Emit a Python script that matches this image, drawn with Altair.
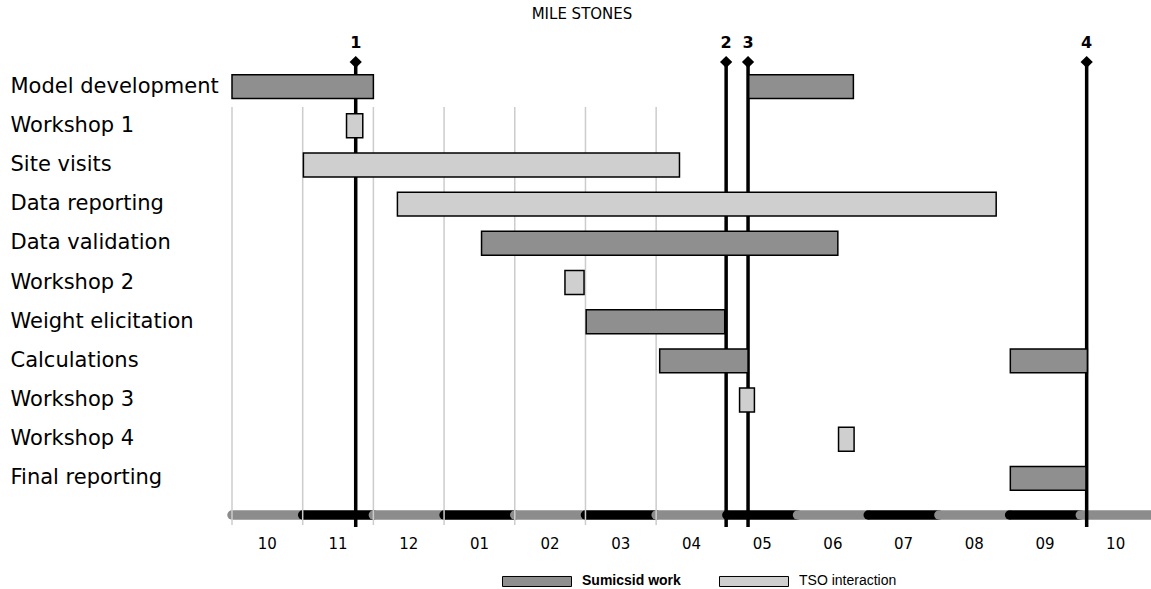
import altair as alt
import pandas as pd

# ---- data -------------------------------------------------------------
tasks = ["Model development", "Workshop 1", "Site visits", "Data reporting",
         "Data validation", "Workshop 2", "Weight elicitation", "Calculations",
         "Workshop 3", "Workshop 4", "Final reporting"]

bar_task = ["Model development", "Model development", "Workshop 1", "Site visits",
            "Data reporting", "Data validation", "Workshop 2", "Weight elicitation",
            "Calculations", "Calculations", "Workshop 3", "Workshop 4", "Final reporting"]
bar_start = [0.00, 7.31, 1.62, 1.01, 2.34, 3.53, 4.71, 5.01, 6.05, 11.01, 7.18, 8.58, 11.01]
bar_end = [2.00, 8.79, 1.85, 6.33, 10.81, 8.57, 4.98, 6.97, 7.30, 12.10, 7.39, 8.80, 12.08]
bar_kind = ["Sumicsid work", "Sumicsid work", "TSO interaction", "TSO interaction",
            "TSO interaction", "Sumicsid work", "TSO interaction", "Sumicsid work",
            "Sumicsid work", "Sumicsid work", "TSO interaction", "TSO interaction",
            "Sumicsid work"]
kinds = ["Sumicsid work", "TSO interaction"]

milestone_id = ["1", "2", "3", "4"]
milestone_month = [1.75, 6.99, 7.30, 12.09]

month_labels = ["10", "11", "12", "01", "02", "03", "04", "05", "06", "07", "08", "09", "10"]
grid_months = [0, 1, 2, 3, 4, 5, 6]

# ---- tables -----------------------------------------------------------
bars_df = pd.DataFrame({"task": bar_task, "start": bar_start, "end": bar_end, "kind": bar_kind})
ms_df = pd.DataFrame({"id": milestone_id, "month": milestone_month})
months_df = pd.DataFrame({
    "i": list(range(len(month_labels))),
    "label": month_labels,
})
months_df["start"] = months_df["i"]
months_df["end"] = months_df["i"] + 1
months_df["mid"] = months_df["i"] + 0.5
grid_df = pd.DataFrame({"month": grid_months})
title_df = pd.DataFrame({"t": ["MILE STONES"]})

FONT = "DejaVu Sans"
W, H = 919, 431

x_scale = alt.Scale(domain=[0, len(month_labels)], nice=False, zero=False)
y_scale = alt.Scale(domain=tasks, paddingInner=0.39, paddingOuter=0.195)

timeline = alt.Chart(months_df).mark_rule(strokeWidth=9.5, strokeCap="round").encode(
    x=alt.X("start:Q", scale=x_scale, axis=None),
    x2="end:Q",
    y=alt.value(448),
    color=alt.condition("datum.i % 2 == 0", alt.value("#8c8c8c"), alt.value("#000000")),
)

month_text = alt.Chart(months_df).mark_text(fontSize=15, font=FONT, baseline="middle", color="black").encode(
    x=alt.X("mid:Q", scale=x_scale, axis=None),
    y=alt.value(477),
    text="label:N",
)

grid = alt.Chart(grid_df).mark_rule(color="#cccccc", strokeWidth=1.5).encode(
    x=alt.X("month:Q", scale=x_scale, axis=None),
    y=alt.value(40),
    y2=alt.value(458),
)

ms_lines = alt.Chart(ms_df).mark_rule(color="black", strokeWidth=3.5).encode(
    x=alt.X("month:Q", scale=x_scale, axis=None),
    y=alt.value(-5),
    y2=alt.value(460),
)

bars = alt.Chart(bars_df).mark_bar(stroke="black", strokeWidth=1.5, opacity=1).encode(
    x=alt.X("start:Q", scale=x_scale, axis=None),
    x2="end:Q",
    y=alt.Y("task:N", scale=y_scale, sort=tasks,
            axis=alt.Axis(title=None, domain=False, ticks=False, labelAlign="left",
                          labelPadding=222, labelFontSize=21, labelFont=FONT,
                          labelColor="black", labelBaseline="middle", labelLimit=0)),
    color=alt.Color("kind:N", scale=alt.Scale(domain=kinds, range=["#8f8f8f", "#cfcfcf"]),
                    legend=alt.Legend(title=None, orient="none", legendX=270, legendY=479,
                                      direction="horizontal",
                                      symbolType="M-1,-0.145H1V0.145H-1Z", symbolSize=4761,
                                      symbolStrokeColor="black", symbolStrokeWidth=1,
                                      symbolOpacity=1, labelFont="Liberation Sans",
                                      labelFontWeight=alt.ExprRef("datum.label == 'Sumicsid work' ? 'bold' : 'normal'"),
                                      labelFontSize=14,
                                      labelColor="black", labelOffset=10, columnPadding=36)),
)

ms_points = alt.Chart(ms_df).mark_point(shape="diamond", filled=True, size=150, color="black", opacity=1).encode(
    x=alt.X("month:Q", scale=x_scale, axis=None),
    y=alt.value(-5),
)

ms_text = alt.Chart(ms_df).mark_text(fontSize=16, fontWeight="bold", font=FONT, color="black", baseline="middle").encode(
    x=alt.X("month:Q", scale=x_scale, axis=None),
    y=alt.value(-24),
    text="id:N",
)

title_text = alt.Chart(title_df).mark_text(fontSize=15, font=FONT, color="black", baseline="middle").encode(
    x=alt.value(350),
    y=alt.value(-53),
    text="t:N",
)

chart = alt.layer(timeline, grid, ms_lines, bars, ms_points, ms_text, month_text, title_text).properties(
    width=W, height=H,
    autosize=alt.AutoSizeParams(type="none"),
    padding={"left": 232, "top": 67, "right": 0, "bottom": 91},
).configure_view(stroke=None)

chart.save("out.html", embed_options={"renderer": "svg", "actions": False})
